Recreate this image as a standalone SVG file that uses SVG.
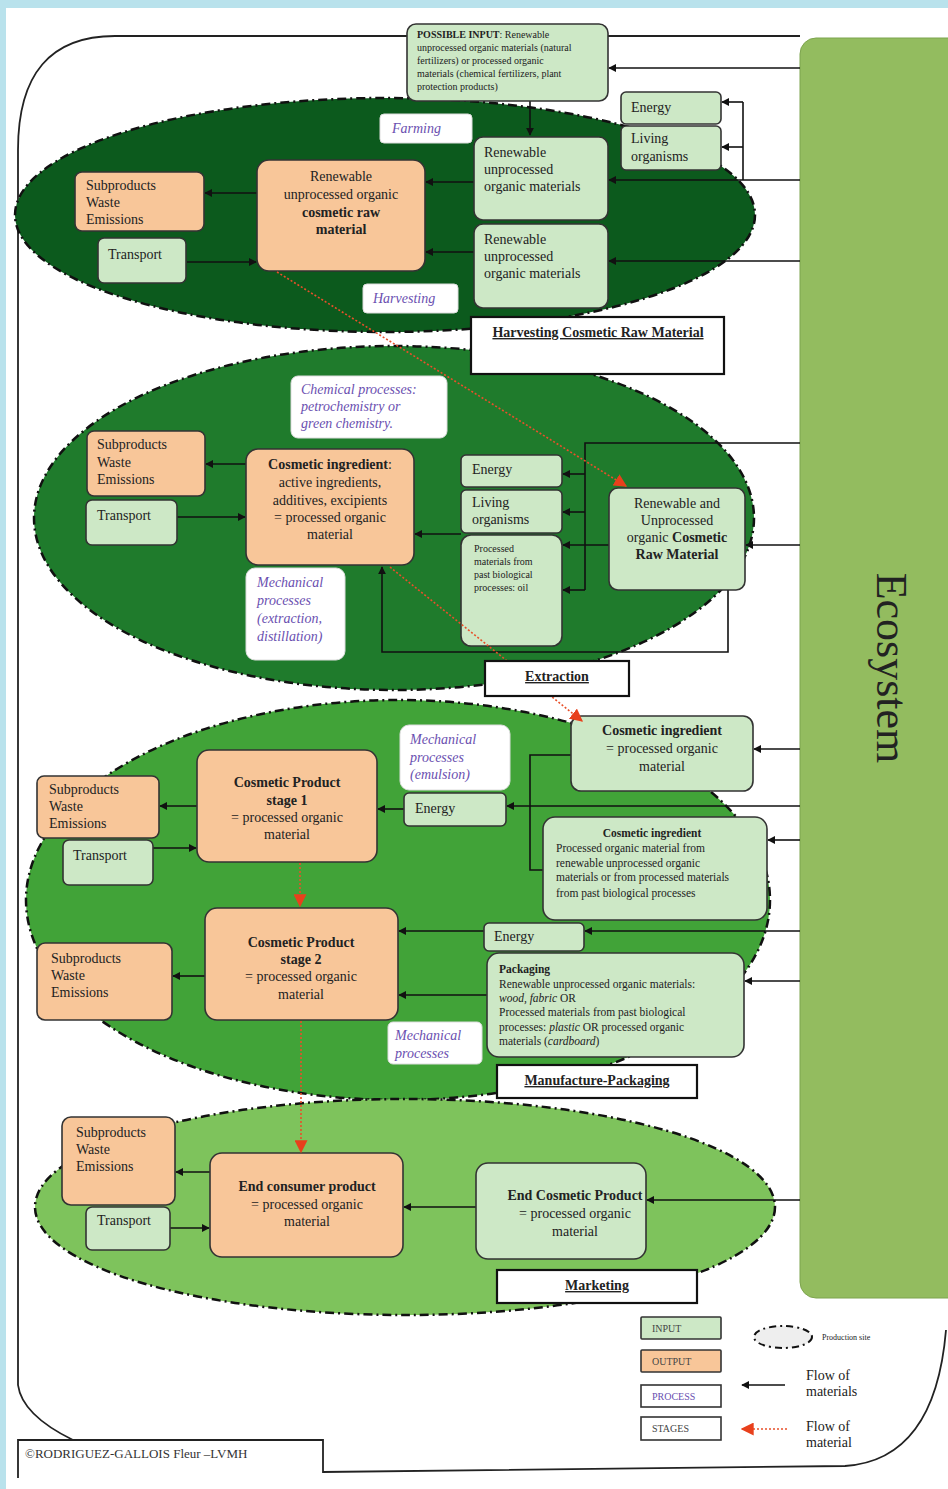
<svg xmlns="http://www.w3.org/2000/svg" width="948" height="1489" viewBox="0 0 948 1489">
<style>
text{font-family:"Liberation Serif","Times New Roman",serif;fill:#222}
.t{font-size:14px}
.s{font-size:11.5px}
.xs{font-size:10px}
.b{font-weight:bold}
.m{text-anchor:middle}
.p{font-style:italic;fill:#6a4fb0;font-size:14px}
.in{fill:#cde8c6;stroke:#333;stroke-width:1.6}
.out{fill:#f8c699;stroke:#333;stroke-width:1.6}
.proc{fill:#fff;stroke:#ddd;stroke-width:1}
.stage{fill:#fff;stroke:#111;stroke-width:2.2}
.st{font-size:14px;font-weight:bold;text-decoration:underline;text-anchor:middle}
.c{fill:none;stroke:#111;stroke-width:1.6}
.a{marker-end:url(#ah)}
.r{fill:none;stroke:#e8502a;stroke-width:1.6;stroke-dasharray:2 2;marker-end:url(#rh)}
.site{stroke:#111;stroke-width:2.5;stroke-dasharray:9 4 2 4}
</style>
<defs>
<marker id="ah" viewBox="0 0 10 10" refX="9" refY="5" markerWidth="8" markerHeight="8" markerUnits="userSpaceOnUse" orient="auto"><path d="M0,0 L10,5 L0,10 z" fill="#111"/></marker>
<marker id="rh" viewBox="0 0 10 10" refX="9" refY="5" markerWidth="13" markerHeight="13" markerUnits="userSpaceOnUse" orient="auto"><path d="M0,0 L10,5 L0,10 z" fill="#e8401c"/></marker>
</defs>
<rect x="0" y="0" width="948" height="1489" fill="#b9e2ec"/>
<rect x="6" y="8" width="942" height="1481" fill="#fff"/>
<g id="frame" fill="none" stroke="#222" stroke-width="1.8">
<path d="M800 36 L115 36 Q18 36 18 150 L18 1385 Q22 1415 73 1440"/>
<path d="M18 1478 L18 1440 L323 1440 L323 1472 L845 1466 Q935 1460 946 1330"/>
</g>
<g id="sites">
<ellipse cx="385" cy="215" rx="370" ry="117" fill="#0c5a1d" class="site"/>
<ellipse cx="394" cy="518" rx="360" ry="172" fill="#1f7b2c" class="site"/>
<ellipse cx="398" cy="900" rx="372" ry="200" fill="#41a338" class="site"/>
<ellipse cx="405" cy="1207" rx="370" ry="108" fill="#7ec35c" class="site"/>
</g>
<g id="ecosystem">
<rect x="800" y="38" width="170" height="1260" rx="16" fill="#93bc5f" stroke="#7da44e" stroke-width="1"/>
<text x="877" y="668" transform="rotate(90 877 668)" class="m" style="font-size:44px">Ecosystem</text>
</g>
<g id="connectors">
<path class="c a" d="M800 68 L609 68"/>
<path class="c a" d="M530 101 L530 135"/>
<path class="c a" d="M800 180 L609 180"/>
<path class="c" d="M743 180 L743 102"/>
<path class="c a" d="M743 102 L722 102"/>
<path class="c a" d="M743 147 L722 147"/>
<path class="c a" d="M800 261 L609 261"/>
<path class="c a" d="M474 182 L426 182"/>
<path class="c a" d="M474 252 L426 252"/>
<path class="c a" d="M257 193 L205 193"/>
<path class="c a" d="M187 262 L256 262"/>
<path class="c" d="M800 443 L585 443 L585 590"/>
<path class="c a" d="M585 474 L563 474"/>
<path class="c a" d="M585 512 L563 512"/>
<path class="c a" d="M609 545 L563 545"/>
<path class="c a" d="M585 590 L563 590"/>
<path class="c a" d="M800 545 L746 545"/>
<path class="c a" d="M728 590 L728 652 L382 652 L382 567"/>
<path class="c a" d="M461 534 L415 534"/>
<path class="c a" d="M246 464 L206 464"/>
<path class="c a" d="M177 517 L245 517"/>
<path class="c a" d="M800 749 L754 749"/>
<path class="c a" d="M800 806 L507 806"/>
<path class="c" d="M571 755 L530 755 L530 870 L543 870"/>
<path class="c a" d="M800 840 L768 840"/>
<path class="c a" d="M404 809 L378 809"/>
<path class="c a" d="M197 806 L160 806"/>
<path class="c a" d="M153 848 L196 848"/>
<path class="c a" d="M800 931 L585 931"/>
<path class="c a" d="M484 931 L399 931"/>
<path class="c a" d="M487 995 L399 995"/>
<path class="c a" d="M800 981 L745 981"/>
<path class="c a" d="M205 976 L173 976"/>
<path class="c a" d="M210 1172 L176 1172"/>
<path class="c a" d="M170 1228 L209 1228"/>
<path class="c a" d="M476 1207 L404 1207"/>
<path class="c a" d="M800 1200 L647 1200"/>
</g>
<g id="n-input">
<rect class="in" x="407" y="24" width="201" height="77" rx="9"/>
<text class="xs" x="417" y="38"><tspan class="b">POSSIBLE INPUT</tspan>: Renewable</text>
<text class="xs" x="417" y="51">unprocessed organic materials (natural</text>
<text class="xs" x="417" y="64">fertilizers) or processed organic</text>
<text class="xs" x="417" y="77">materials (chemical fertilizers, plant</text>
<text class="xs" x="417" y="90">protection products)</text>
</g>
<g id="n-farming"><rect class="proc" x="380" y="114" width="92" height="29" rx="4"/><text class="p" x="392" y="133">Farming</text></g>
<g id="n-energy1"><rect class="in" x="621" y="92" width="100" height="32" rx="5"/><text class="t" x="631" y="112">Energy</text></g>
<g id="n-living1"><rect class="in" x="621" y="126" width="100" height="44" rx="5"/><text class="t" x="631" y="143">Living</text><text class="t" x="631" y="161">organisms</text></g>
<g id="n-renew1"><rect class="in" x="474" y="137" width="134" height="83" rx="9"/><text class="t" x="484" y="157">Renewable</text><text class="t" x="484" y="174">unprocessed</text><text class="t" x="484" y="191">organic materials</text></g>
<g id="n-renew2"><rect class="in" x="474" y="224" width="134" height="84" rx="9"/><text class="t" x="484" y="244">Renewable</text><text class="t" x="484" y="261">unprocessed</text><text class="t" x="484" y="278">organic materials</text></g>
<g id="n-rawmat"><rect class="out" x="257" y="160" width="168" height="111" rx="12"/>
<text class="t m" x="341" y="181">Renewable</text><text class="t m" x="341" y="199">unprocessed organic</text><text class="t m b" x="341" y="217">cosmetic raw</text><text class="t m b" x="341" y="234">material</text></g>
<g id="n-sub1"><rect class="out" x="75" y="172" width="129" height="59" rx="7"/><text class="t" x="86" y="190">Subproducts</text><text class="t" x="86" y="207">Waste</text><text class="t" x="86" y="224">Emissions</text></g>
<g id="n-trans1"><rect class="in" x="98" y="238" width="88" height="45" rx="6"/><text class="t" x="108" y="259">Transport</text></g>
<g id="n-harvesting"><rect class="proc" x="363" y="284" width="95" height="29" rx="4"/><text class="p" x="373" y="303">Harvesting</text></g>
<g id="s-harvest"><rect class="stage" x="471" y="317" width="253" height="57"/><text class="st" x="598" y="337">Harvesting Cosmetic Raw Material</text></g>
<g id="n-chem"><rect class="proc" x="291" y="376" width="156" height="62" rx="7"/><text class="p" x="301" y="394">Chemical processes:</text><text class="p" x="301" y="411">petrochemistry or</text><text class="p" x="301" y="428">green chemistry.</text></g>
<g id="n-sub2"><rect class="out" x="87" y="431" width="118" height="65" rx="7"/><text class="t" x="97" y="449">Subproducts</text><text class="t" x="97" y="467">Waste</text><text class="t" x="97" y="484">Emissions</text></g>
<g id="n-trans2"><rect class="in" x="86" y="500" width="91" height="45" rx="6"/><text class="t" x="97" y="520">Transport</text></g>
<g id="n-ingr1"><rect class="out" x="246" y="449" width="168" height="116" rx="12"/>
<text class="t m" x="330" y="469"><tspan class="b">Cosmetic ingredient</tspan>:</text><text class="t m" x="330" y="487">active ingredients,</text><text class="t m" x="330" y="505">additives, excipients</text><text class="t m" x="330" y="522">= processed organic</text><text class="t m" x="330" y="539">material</text></g>
<g id="n-mech1"><rect class="proc" x="246" y="568" width="99" height="92" rx="9"/><text class="p" x="257" y="587">Mechanical</text><text class="p" x="257" y="605">processes</text><text class="p" x="257" y="623">(extraction,</text><text class="p" x="257" y="641">distillation)</text></g>
<g id="n-energy2"><rect class="in" x="461" y="455" width="101" height="32" rx="5"/><text class="t" x="472" y="474">Energy</text></g>
<g id="n-living2"><rect class="in" x="461" y="490" width="101" height="43" rx="5"/><text class="t" x="472" y="507">Living</text><text class="t" x="472" y="524">organisms</text></g>
<g id="n-processed"><rect class="in" x="461" y="535" width="101" height="111" rx="10"/><text class="xs" x="474" y="552">Processed</text><text class="xs" x="474" y="565">materials from</text><text class="xs" x="474" y="578">past biological</text><text class="xs" x="474" y="591">processes: oil</text></g>
<g id="n-rawmat2"><rect class="in" x="609" y="488" width="136" height="102" rx="9"/>
<text class="t m" x="677" y="508">Renewable and</text><text class="t m" x="677" y="525">Unprocessed</text><text class="t m" x="677" y="542">organic <tspan class="b">Cosmetic</tspan></text><text class="t m b" x="677" y="559">Raw Material</text></g>
<g id="n-mech2"><rect class="proc" x="400" y="725" width="110" height="65" rx="9"/><text class="p" x="410" y="744">Mechanical</text><text class="p" x="410" y="762">processes</text><text class="p" x="410" y="779">(emulsion)</text></g>
<g id="n-ingr2"><rect class="in" x="571" y="716" width="182" height="75" rx="10"/><text class="t m b" x="662" y="735">Cosmetic ingredient</text><text class="t m" x="662" y="753">= processed organic</text><text class="t m" x="662" y="771">material</text></g>
<g id="n-energy3"><rect class="in" x="404" y="793" width="102" height="33" rx="5"/><text class="t" x="415" y="813">Energy</text></g>
<g id="n-ingr3"><rect class="in" x="543" y="817" width="224" height="103" rx="12"/>
<text class="s m b" x="652" y="837">Cosmetic ingredient</text><text class="s" x="556" y="852">Processed organic material from</text><text class="s" x="556" y="867">renewable unprocessed organic</text><text class="s" x="556" y="881">materials or from processed materials</text><text class="s" x="556" y="897">from past biological processes</text></g>
<g id="n-prod1"><rect class="out" x="197" y="750" width="180" height="112" rx="12"/>
<text class="t m b" x="287" y="787">Cosmetic Product</text><text class="t m b" x="287" y="805">stage 1</text><text class="t m" x="287" y="822">= processed organic</text><text class="t m" x="287" y="839">material</text></g>
<g id="n-sub3"><rect class="out" x="37" y="776" width="122" height="62" rx="7"/><text class="t" x="49" y="794">Subproducts</text><text class="t" x="49" y="811">Waste</text><text class="t" x="49" y="828">Emissions</text></g>
<g id="n-trans3"><rect class="in" x="63" y="840" width="90" height="45" rx="6"/><text class="t" x="73" y="860">Transport</text></g>
<g id="n-prod2"><rect class="out" x="205" y="908" width="193" height="112" rx="12"/>
<text class="t m b" x="301" y="947">Cosmetic Product</text><text class="t m b" x="301" y="964">stage 2</text><text class="t m" x="301" y="981">= processed organic</text><text class="t m" x="301" y="999">material</text></g>
<g id="n-sub4"><rect class="out" x="37" y="943" width="135" height="77" rx="8"/><text class="t" x="51" y="963">Subproducts</text><text class="t" x="51" y="980">Waste</text><text class="t" x="51" y="997">Emissions</text></g>
<g id="n-energy4"><rect class="in" x="484" y="923" width="100" height="28" rx="5"/><text class="t" x="494" y="941">Energy</text></g>
<g id="n-packaging"><rect class="in" x="487" y="953" width="257" height="104" rx="12"/>
<text class="s b" x="499" y="973">Packaging</text>
<text class="s" x="499" y="988">Renewable unprocessed organic materials:</text>
<text class="s" x="499" y="1002"><tspan font-style="italic">wood, fabric</tspan> OR</text>
<text class="s" x="499" y="1016">Processed materials from past biological</text>
<text class="s" x="499" y="1031">processes: <tspan font-style="italic">plastic</tspan> OR processed organic</text>
<text class="s" x="499" y="1045">materials (<tspan font-style="italic">cardboard</tspan>)</text></g>
<g id="n-mech3"><rect class="proc" x="388" y="1022" width="94" height="42" rx="5"/><text class="p" x="395" y="1040">Mechanical</text><text class="p" x="395" y="1058">processes</text></g>
<g id="s-manufacture"><rect class="stage" x="497" y="1065" width="200" height="33"/><text class="st" x="597" y="1085">Manufacture-Packaging</text></g>
<g id="n-sub5"><rect class="out" x="62" y="1117" width="113" height="88" rx="9"/><text class="t" x="76" y="1137">Subproducts</text><text class="t" x="76" y="1154">Waste</text><text class="t" x="76" y="1171">Emissions</text></g>
<g id="n-trans5"><rect class="in" x="86" y="1207" width="84" height="43" rx="6"/><text class="t" x="97" y="1225">Transport</text></g>
<g id="n-endconsumer"><rect class="out" x="210" y="1153" width="193" height="104" rx="12"/>
<text class="t m b" x="307" y="1191">End consumer product</text><text class="t m" x="307" y="1209">= processed organic</text><text class="t m" x="307" y="1226">material</text></g>
<g id="n-endcosmetic"><rect class="in" x="476" y="1163" width="170" height="96" rx="12"/>
<text class="t m b" x="575" y="1200">End Cosmetic Product</text><text class="t m" x="575" y="1218">= processed organic</text><text class="t m" x="575" y="1236">material</text></g>
<g id="s-marketing"><rect class="stage" x="497" y="1270" width="200" height="33"/><text class="st" x="597" y="1290">Marketing</text></g>
<g id="flows">
<path class="r" d="M277 272 L626 486"/>
<path class="r" d="M390 567 L582 721"/>
<path class="r" d="M300 863 L300 906"/>
<path class="r" d="M301 1021 L301 1152"/>
</g>
<g id="s-extraction"><rect class="stage" x="485" y="661" width="144" height="35"/><text class="st" x="557" y="681">Extraction</text></g>
<g id="legend">
<rect class="in" x="641" y="1317" width="80" height="22" rx="1"/><text x="652" y="1332" style="font-size:10px;fill:#444">INPUT</text>
<rect class="out" x="641" y="1350" width="80" height="22" rx="1"/><text x="652" y="1365" style="font-size:10px;fill:#444">OUTPUT</text>
<rect x="641" y="1385" width="80" height="22" fill="#fff" stroke="#333" stroke-width="1.6"/><text x="652" y="1400" style="font-size:10px;fill:#6a4fb0">PROCESS</text>
<rect x="641" y="1417" width="80" height="23" fill="#fff" stroke="#333" stroke-width="1.6"/><text x="652" y="1432" style="font-size:10px;fill:#444">STAGES</text>
<ellipse cx="783" cy="1337" rx="29" ry="11" fill="#eee" stroke="#111" stroke-width="2" stroke-dasharray="7 4 2 4"/>
<text x="822" y="1340" style="font-size:8px">Production site</text>
<path class="c a" d="M785 1385 L742 1385"/>
<text class="t" x="806" y="1380">Flow of</text><text class="t" x="806" y="1396">materials</text>
<path class="r" d="M787 1429 L742 1429"/>
<text class="t" x="806" y="1431">Flow of</text><text class="t" x="806" y="1447">material</text>
</g>
<g id="copyright"><text x="25" y="1458" style="font-size:13px;fill:#333">©RODRIGUEZ-GALLOIS Fleur –LVMH</text></g>
</svg>
